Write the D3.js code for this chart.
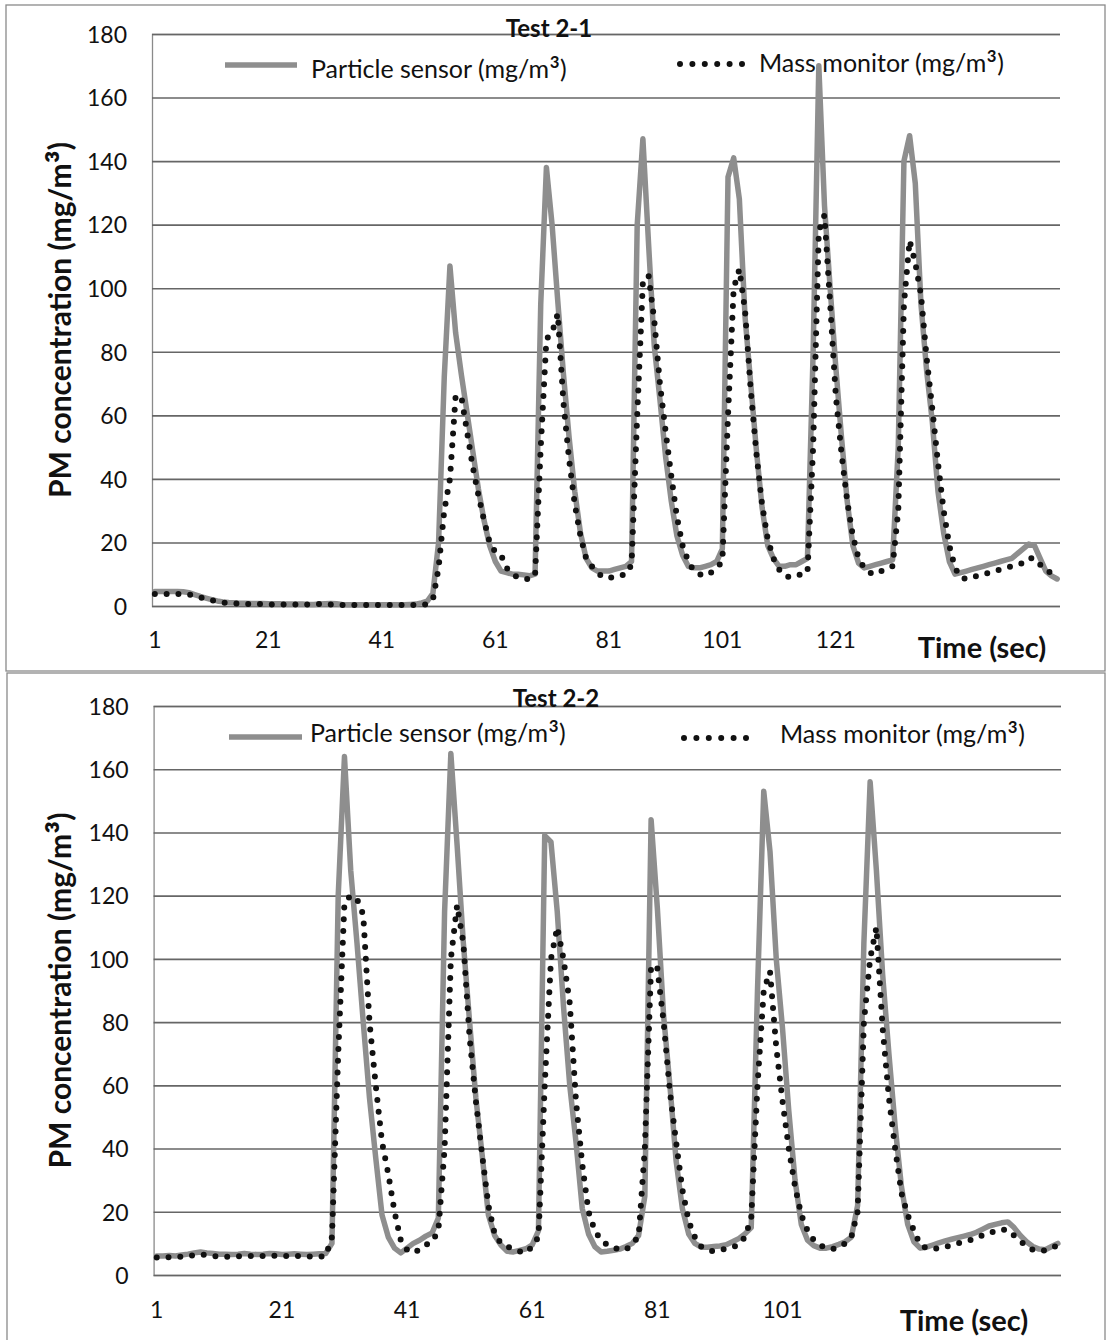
<!DOCTYPE html>
<html>
<head>
<meta charset="utf-8">
<script src="https://cdn.jsdelivr.net/npm/d3@7"></script>
<style>
  html, body { margin: 0; padding: 0; background: #fff; }
  svg { display: block; font-family: Lato, "Open Sans", sans-serif; }
</style>
</head>
<body>
<svg id="chart" width="1107" height="1340"></svg>
<script>
// ---------------- DATA ----------------
const yTickValues = [0, 20, 40, 60, 80, 100, 120, 140, 160, 180];
const xTickLabelsTop = [1, 21, 41, 61, 81, 101, 121];
const xTickLabelsBottom = [1, 21, 41, 61, 81, 101];
const seriesNames = ["Particle sensor (mg/m³)", "Mass monitor (mg/m³)"];
const chartTitles = ["Test 2-1", "Test 2-2"];
const yAxisTitle = "PM concentration (mg/m³)";
const xAxisTitle = "Time (sec)";

// Test 2-1 : 160 seconds
const particleTest21 = [
  4.6,4.6,4.6,4.6,4.6,4.5,4.2,3.6,3.0,2.5,
  2.0,1.6,1.3,1.1,1.0,0.9,0.9,0.8,0.8,0.8,
  0.7,0.7,0.7,0.6,0.6,0.6,0.6,0.5,0.5,0.6,
  0.7,0.8,0.7,0.5,0.4,0.4,0.4,0.4,0.4,0.4,
  0.4,0.4,0.4,0.4,0.4,0.5,0.6,1.0,1.5,4,
  20,72,107,86,73,61,49,37,27,19,
  14,11,10.5,10,10,9.8,9.5,10,95,138,
  120,96,73,53,36,23,15,12,11,11,
  11,11.5,12,12.5,14,120,147,114,82,65,
  47,33,22,16,12.5,12,12,12.5,13,14,
  18,135,141,128,91,70,49,31,19,15,
  12.5,12.5,13,13,14,15,80,170,126,100,
  75,53,33,19,13.5,12,12.5,13,13.5,14,
  14.5,50,140,148,133,95,74,58,36,23,
  14,10,10.5,11,11.5,12,12.5,13,13.5,14,
  14.5,15,16.5,18,19.5,19,15,11,9.5,8.5
];
const massTest21 = [
  3.8,3.8,3.8,3.8,3.8,3.8,3.6,3.2,2.7,2.2,
  1.8,1.4,1.1,0.9,0.8,0.7,0.7,0.6,0.6,0.6,
  0.5,0.5,0.5,0.5,0.5,0.5,0.5,0.5,0.5,0.6,
  0.6,0.5,0.4,0.3,0.3,0.3,0.3,0.3,0.3,0.3,
  0.3,0.3,0.3,0.3,0.3,0.3,0.3,0.3,0.6,2,
  12,30,40,66,66,55,44,35,27,20,
  17,16,12,10,9,8.5,8.5,9.5,50,84,
  86,92,64,46,32,22,15,12.5,10.5,9,
  9,9,9.5,10,13,60,102,104,90,70,
  55,41,28,19,14,11,10,9.5,10.5,12,
  14,60,100,106,93,68,48,32,21,15,
  11.5,9.5,9,9.5,10,10.5,50,118,123,95,
  66,48,33,22,15,12,10.5,10,11,12,
  12.5,30,95,115,108,98,78,62,45,30,
  19,12,9,8.5,9,9.5,10,10.5,11,11.5,
  12,12.5,13,13.5,15,15,13,12,10,9
];

// Test 2-2 : 145 seconds
const particleTest22 = [
  6.0,6.0,6.2,6.0,6.3,6.6,7.0,7.3,7.0,6.8,
  6.6,6.6,6.5,6.6,6.8,6.6,6.5,6.6,6.8,6.7,
  6.5,6.6,6.7,6.6,6.5,6.6,6.7,6.8,10,120,
  164,128,105,80,56,37,19,12,8.5,7,
  8.5,10,11,12.3,13.3,18,115,165,136,105,
  80,56,38,19,12.5,9.5,7.5,7.3,7.8,8.3,
  9.5,14,139,137,115,85,60,42,21,13,
  9,7.3,7.5,7.8,8.2,9,10,12.5,25,144,
  116,82,60,36,21,13,10,8.8,8.8,9,
  9.2,9.6,10.5,11.5,13,15,90,153,134,100,
  78,52,30,16,11,9.3,8.5,8.5,9,9.7,
  10.5,12,22,105,156,128,95,70,47,28,
  16,10.5,8.5,8.8,9.5,10.2,10.8,11.3,11.8,12.3,
  12.8,13.5,14.5,15.5,16,16.5,16.8,15,12.5,10.5,
  9,8.2,8,9,10
];
const massTest22 = [
  5.5,5.5,5.6,5.6,5.8,6.0,6.3,6.5,6.3,6.0,
  5.8,5.8,5.8,5.9,6.0,6.0,6.0,6.0,6.0,6.1,
  6.1,6.0,6.0,6.0,5.9,5.8,5.8,6.0,12,70,
  118,120,119,114,80,60,42,32,20,11,
  8,7,8,9.5,10.5,14,40,100,117,105,
  75,55,38,22,13,10,9,8.2,7.5,7,
  9,12,60,100,110,100,86,55,35,20,
  14,11,9.5,8.5,8.2,8,10,12,40,98,
  97,80,58,42,27,17,12,9,8,7.5,
  8,8.2,8.8,9.5,12,18,60,90,96,72,
  55,40,28,19,14,11,9.4,8.5,8.2,8.8,
  10,12,20,80,100,110,78,56,40,26,
  19,14,9.5,8.5,8.2,8.5,8.8,9.5,10,10.5,
  11,11.9,12.5,13,14,14.3,14.3,12.5,10.8,9,
  8,7.6,7.8,8.5,9.5
];

// ---------------- LAYOUT / STYLE ----------------
const panels = [
  { title: chartTitles[0], particle: particleTest21, mass: massTest21, xLabels: xTickLabelsTop,
    frame: { x1: 6, y1: 5, x2: 1105, y2: 671 },
    left: 152, right: 1060, top: 34, bottom: 606,
    titleX: 549, titleY: 37,
    leg1: { x1: 225, x2: 297, y: 65, tx: 311, ty: 78 },
    leg2: { x1: 680, x2: 742, y: 64, tx: 759, ty: 72 },
    xLabelY: 648, timeX: 982, timeY: 658, yTitleX: 71 },
  { title: chartTitles[1], particle: particleTest22, mass: massTest22, xLabels: xTickLabelsBottom,
    frame: { x1: 7, y1: 673, x2: 1105, y2: 1345 },
    left: 153.6, right: 1061, top: 706, bottom: 1275,
    titleX: 556, titleY: 707,
    leg1: { x1: 229, x2: 302, y: 737, tx: 310, ty: 742 },
    leg2: { x1: 684, x2: 748, y: 738, tx: 780, ty: 743 },
    xLabelY: 1318, timeX: 964, timeY: 1331, yTitleX: 71 }
];

const particleColor = "#8e8e8e";
const massColor = "#111111";
const gridColor = "#666666";
const textColor = "#111";

// writes a label, drawing the "³" a little larger so it reads like a normal superscript
function writeLabel(sel, str, size) {
  const k = str.indexOf("³");
  if (k < 0) { sel.text(str); return; }
  const shift = size * 0.2;
  sel.append("tspan").text(str.slice(0, k));
  sel.append("tspan").attr("font-size", size * 1.3).attr("dy", shift).text("³");
  sel.append("tspan").attr("dy", -shift).text(str.slice(k + 1));
}

const svg = d3.select("#chart");

panels.forEach(p => {
  const g = svg.append("g");
  const n = p.particle.length;
  const categories = d3.range(1, n + 1);

  const x = d3.scaleBand().domain(categories).range([p.left, p.right]).padding(0);
  const cx = d => x(d) + x.bandwidth() / 2;
  const y = d3.scaleLinear().domain([0, 180]).range([p.bottom, p.top]);

  // frame
  g.append("rect")
    .attr("x", p.frame.x1).attr("y", p.frame.y1)
    .attr("width", p.frame.x2 - p.frame.x1).attr("height", p.frame.y2 - p.frame.y1)
    .attr("fill", "none").attr("stroke", "#8a8a8a").attr("stroke-width", 1.3);

  // gridlines + y labels
  const yAxis = d3.axisLeft(y).tickValues(yTickValues).tickSize(-(p.right - p.left)).tickPadding(25);
  const ya = g.append("g").attr("transform", `translate(${p.left},0)`).call(yAxis);
  ya.select(".domain").attr("stroke", "#8a8a8a").attr("stroke-width", 1.3);
  ya.selectAll(".tick line").attr("stroke", gridColor).attr("stroke-width", 1.6);
  ya.selectAll(".tick text")
    .attr("fill", textColor).attr("font-size", 23).attr("font-family", "Lato, sans-serif")
    .attr("dy", "0.36em");

  // x labels
  const xAxis = d3.axisBottom(x).tickValues(p.xLabels).tickSize(0).tickPadding(0);
  const xa = g.append("g").attr("transform", `translate(0,${p.xLabelY})`).call(xAxis);
  xa.select(".domain").remove();
  xa.selectAll(".tick text")
    .attr("fill", textColor).attr("font-size", 23).attr("font-family", "Lato, sans-serif")
    .attr("dy", 0).attr("y", 0);

  // series lines
  const line = d3.line().x((d, i) => cx(categories[i])).y(d => y(d));
  g.append("path").datum(p.particle)
    .attr("d", line).attr("fill", "none")
    .attr("stroke", particleColor).attr("stroke-width", 5.5)
    .attr("stroke-linejoin", "round").attr("stroke-linecap", "round");
  g.append("path").datum(p.mass)
    .attr("d", line).attr("fill", "none")
    .attr("stroke", massColor).attr("stroke-width", 6)
    .attr("stroke-linecap", "round").attr("stroke-linejoin", "round")
    .attr("stroke-dasharray", "0 11.8");

  // title
  g.append("text").attr("x", p.titleX).attr("y", p.titleY)
    .attr("text-anchor", "middle").attr("font-size", 24).attr("font-weight", "bold")
    .attr("fill", textColor).text(p.title);

  // legend
  g.append("line").attr("x1", p.leg1.x1).attr("x2", p.leg1.x2).attr("y1", p.leg1.y).attr("y2", p.leg1.y)
    .attr("stroke", particleColor).attr("stroke-width", 5.5);
  writeLabel(g.append("text").attr("x", p.leg1.tx).attr("y", p.leg1.ty)
    .attr("font-size", 25).attr("fill", textColor), seriesNames[0], 25);
  g.append("line").attr("x1", p.leg2.x1).attr("x2", p.leg2.x2).attr("y1", p.leg2.y).attr("y2", p.leg2.y)
    .attr("stroke", massColor).attr("stroke-width", 6)
    .attr("stroke-linecap", "round").attr("stroke-dasharray", "0 12.4");
  writeLabel(g.append("text").attr("x", p.leg2.tx).attr("y", p.leg2.ty)
    .attr("font-size", 25).attr("fill", textColor), seriesNames[1], 25);

  // axis titles
  writeLabel(g.append("text")
    .attr("transform", `translate(${p.yTitleX},${(p.top + p.bottom) / 2}) rotate(-90)`)
    .attr("text-anchor", "middle").attr("font-size", 30).attr("font-weight", "bold")
    .attr("fill", textColor), yAxisTitle, 30);
  g.append("text").attr("x", p.timeX).attr("y", p.timeY)
    .attr("text-anchor", "middle").attr("font-size", 29).attr("font-weight", "bold")
    .attr("fill", textColor).text(xAxisTitle);
});
</script>
</body>
</html>
